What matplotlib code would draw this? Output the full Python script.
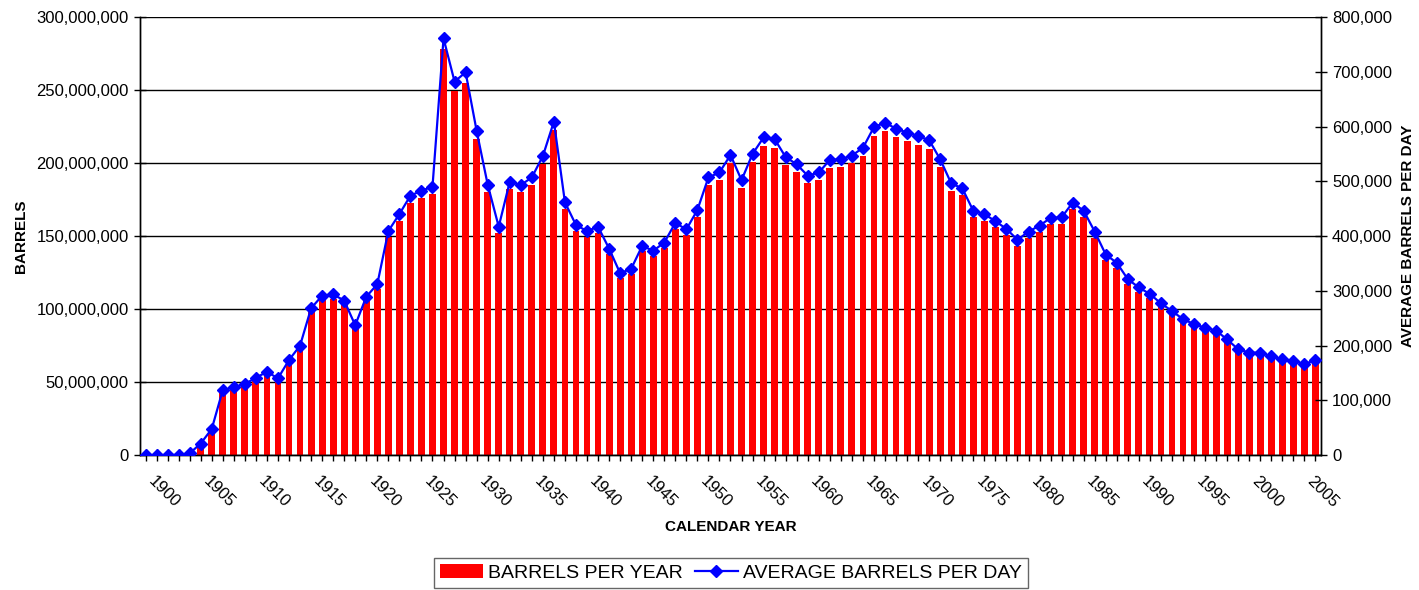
import numpy as np
import matplotlib
matplotlib.use("Agg")
import matplotlib.pyplot as plt
from matplotlib.patches import Patch
from matplotlib.lines import Line2D
from matplotlib.ticker import FuncFormatter, MultipleLocator

plt.rcParams['font.family'] = ['Liberation Sans', 'DejaVu Sans']

years = list(range(1900, 2007))

# barrels per year, millions
barrels_per_year_m = [
    0, 0, 0, 0.1, 1.1, 7.7, 17.3, 43.3, 45.1, 47.3,
    51.5, 55.5, 51.1, 63.3, 72.9, 97.8, 106.2, 107.1, 102.9, 86.5,
    105.5, 113.9, 149.3, 160.6, 172.9, 176.2, 178.9, 277.8, 249.3, 255.1,
    216.1, 180.3, 152.2, 182.1, 179.9, 185.1, 199.3, 222.3, 168.4, 153.3,
    149.3, 152.2, 137.6, 121.2, 124.1, 139.4, 136.1, 141.6, 154.8, 150.4,
    163.3, 185.1, 188.3, 200.0, 183.2, 200.8, 211.7, 210.6, 198.6, 193.8,
    186.2, 188.3, 196.7, 197.1, 199.7, 204.8, 218.6, 221.6, 217.5, 215.0,
    212.6, 209.9, 197.1, 181.0, 177.8, 162.8, 160.6, 155.9, 150.7, 143.4,
    148.9, 152.9, 158.0, 158.4, 168.3, 162.8, 148.9, 133.6, 128.1, 117.2,
    111.7, 107.3, 101.1, 96.0, 90.5, 87.2, 84.9, 82.9, 77.0, 70.4,
    68.3, 68.3, 65.7, 63.9, 62.8, 60.6, 63.3,
]

# average barrels per day, thousands
avg_barrels_per_day_k = [
    0, 0, 0, 0.3, 3, 21, 47.5, 118.7, 123.6, 129.7,
    141, 152, 140, 173.5, 199.7, 268, 291, 293.5, 282, 237,
    289, 312, 409, 440, 473.6, 482.8, 490, 761, 682, 699,
    592, 494, 417, 499, 493, 507, 546, 609, 461.5, 420,
    409, 417, 377, 332, 340, 382, 373, 388, 424, 412,
    447.5, 507, 516, 548, 502, 550, 580, 577, 544, 531,
    510, 516, 539, 540, 547, 561, 599, 607, 596, 589,
    582.6, 575, 540, 496, 487, 446, 440, 427, 413, 393,
    408, 419, 433, 434, 461, 446, 408, 366, 351, 321,
    306, 294, 277, 263, 248, 239, 232.5, 227, 211, 193,
    187, 187, 180, 175, 172, 166, 173.5,
]

x_labels = [str(y) if y % 5 == 0 else '' for y in years]

fig = plt.figure(figsize=(14.19, 5.90), dpi=100)
ax = fig.add_axes([140/1419, 1-455/590, (1321-140)/1419, (455-17)/590])
ax2 = ax.twinx()

x = np.arange(len(years))
bpy = np.array(barrels_per_year_m) * 1e6
bpd = np.array(avg_barrels_per_day_k) * 1e3

ax.bar(x, bpy, width=0.62, color='#FF0000', edgecolor='none', zorder=2)
ax.set_axisbelow(True)
ax.yaxis.grid(True, color='black', linewidth=1.0)
ax.set_ylim(0, 300e6)
ax.yaxis.set_major_locator(MultipleLocator(50e6))
ax.yaxis.set_major_formatter(FuncFormatter(lambda v, p: f"{int(v):,}"))
ax.set_xlim(-0.5, len(years) - 0.5)
ax.set_xticks(x)
ax.set_xticklabels(x_labels, rotation=-45, ha='left', va='bottom',
                   rotation_mode='anchor', fontsize=12)

ax2.plot(x, bpd, color='#0000FF', linewidth=1.6, marker='D', markersize=6.5,
         markerfacecolor='#0000FF', markeredgecolor='#0000FF', zorder=3)
ax2.set_ylim(0, 800e3)
ax2.yaxis.set_major_locator(MultipleLocator(100e3))
ax2.yaxis.set_major_formatter(FuncFormatter(lambda v, p: f"{int(v):,}"))

for a in (ax, ax2):
    a.spines['top'].set_visible(False)
    for s in a.spines.values():
        s.set_linewidth(1.0)
ax.tick_params(axis='y', direction='inout', length=8, width=1, labelsize=12, pad=4)
ax.tick_params(axis='x', direction='inout', length=8, width=1, pad=17)
ax2.tick_params(axis='y', direction='inout', length=8, width=1, labelsize=12, pad=4)

ax.set_ylabel('BARRELS', fontsize=11, fontweight='bold', labelpad=6)
ax.set_xlabel('CALENDAR YEAR', fontsize=11, fontweight='bold', labelpad=7)
ax2.set_ylabel('AVERAGE BARRELS PER DAY', fontsize=11, fontweight='bold', labelpad=6)

handles = [Patch(facecolor='#FF0000', edgecolor='none'),
           Line2D([], [], color='#0000FF', linewidth=1.6, marker='D', markersize=6.5)]
leg = fig.legend(handles, ['BARRELS PER YEAR', 'AVERAGE BARRELS PER DAY'],
                 loc='center', bbox_to_anchor=(731/1419, 1-573/590), ncol=2,
                 fontsize=14, frameon=True, fancybox=False, handlelength=2.2,
                 handletextpad=0.3, columnspacing=0.6, borderpad=0.3)
leg.get_frame().set_edgecolor('#404040')
leg.get_frame().set_linewidth(1.0)

fig.savefig('out.png', dpi=100)
